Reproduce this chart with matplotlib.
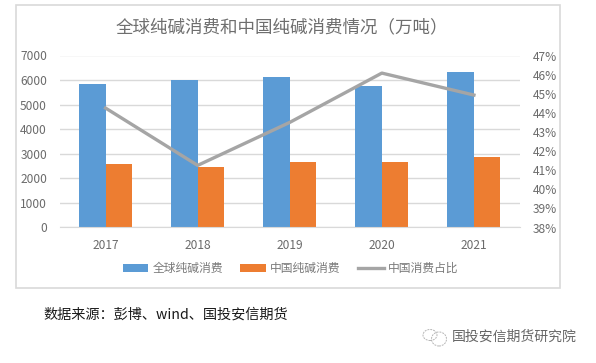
import numpy as np
import matplotlib
matplotlib.use('Agg')
import matplotlib.pyplot as plt
from matplotlib.patches import Rectangle, Ellipse

plt.rcParams['font.family'] = ['Noto Sans CJK SC', 'DejaVu Sans']

years = ['2017', '2018', '2019', '2020', '2021']
world = [5840, 6000, 6145, 5760, 6340]
china = [2585, 2470, 2680, 2660, 2870]
share = [44.25, 41.25, 43.5, 46.08, 44.93]
left_ticks = [0, 1000, 2000, 3000, 4000, 5000, 6000, 7000]
right_ticks = [38, 39, 40, 41, 42, 43, 44, 45, 46, 47]

W, H = 596, 363

fig = plt.figure(figsize=(W / 100, H / 100), dpi=100)

# outer chart frame, pixel coords converted to figure fractions
fig.add_artist(Rectangle((15.5 / W, 1 - 288 / H), (560 - 15.5) / W, (288 - 4.5) / H,
                         transform=fig.transFigure, fc='white', ec='#d9d9d9', lw=1.2, zorder=-1))

ax = fig.add_axes([59.5 / W, 1 - 227.5 / H, (520 - 59.5) / W, (227.5 - 55.5) / H])
ax.patch.set_alpha(0)
x = np.arange(len(years))
bar_w = 0.288
ax.bar(x - bar_w / 2, world, bar_w, color='#5b9bd5', label='全球纯碱消费', zorder=2)
ax.bar(x + bar_w / 2, china, bar_w, color='#ed7d31', label='中国纯碱消费', zorder=2)
ax.set_xlim(-0.5, 4.5)
ax.set_ylim(0, 7000)
ax.set_xticks(x, years)
ax.set_yticks(left_ticks)
ax.grid(axis='y', color='#d9d9d9', lw=1)
ax.set_axisbelow(True)
ax.tick_params(length=0, labelsize=8.6, labelcolor='#6b6b6b')
ax.tick_params(axis='x', pad=8)
ax.tick_params(axis='y', pad=9)
for s in ax.spines.values():
    s.set_visible(False)
ax.spines['bottom'].set_visible(True)
ax.spines['bottom'].set_color('#d9d9d9')

ax2 = ax.twinx()
ax2.plot(x, share, color='#a5a5a5', lw=2.4, label='中国消费占比', zorder=3)
ax2.set_ylim(38, 47)
ax2.set_yticks(right_ticks, [f'{v}%' for v in right_ticks])
ax2.tick_params(length=0, labelsize=8.6, labelcolor='#6b6b6b', pad=9)
for s in ax2.spines.values():
    s.set_visible(False)

fig.text(282 / W, 1 - 27 / H, '全球纯碱消费和中国纯碱消费情况\uff08万吨\uff09', fontsize=12.6,
         color='#6e6e6e', ha='center', va='center')

h1, l1 = ax.get_legend_handles_labels()
h2, l2 = ax2.get_legend_handles_labels()
fig.legend(h1 + h2, l1 + l2, loc='center', bbox_to_anchor=(290.5 / W, 1 - 268.5 / H), ncol=3,
           frameon=False, fontsize=8.5, labelcolor='#7a7a7a', handlelength=2.15,
           handletextpad=0.35, columnspacing=1.5, borderpad=0)

fig.text(43 / W, 1 - 315 / H, '数据来源\uff1a彭博、wind、国投安信期货', fontsize=10.2,
         color='#1a1a1a', ha='left', va='center', fontweight='medium')
fig.text(452 / W, 1 - 337 / H, '国投安信期货研究院', fontsize=10, color='#666666',
         ha='left', va='center')

# small chat-bubble logo beside the account name
for cx, cy, ew, eh in [(430, 335, 14, 11), (439, 339, 15, 14)]:
    fig.add_artist(Ellipse((cx / W, 1 - cy / H), ew / W, eh / H, transform=fig.transFigure,
                           fc='none', ec='#b5b5b5', lw=0.7, ls=(0, (2, 1))))

fig.savefig('out.png', dpi=100)
